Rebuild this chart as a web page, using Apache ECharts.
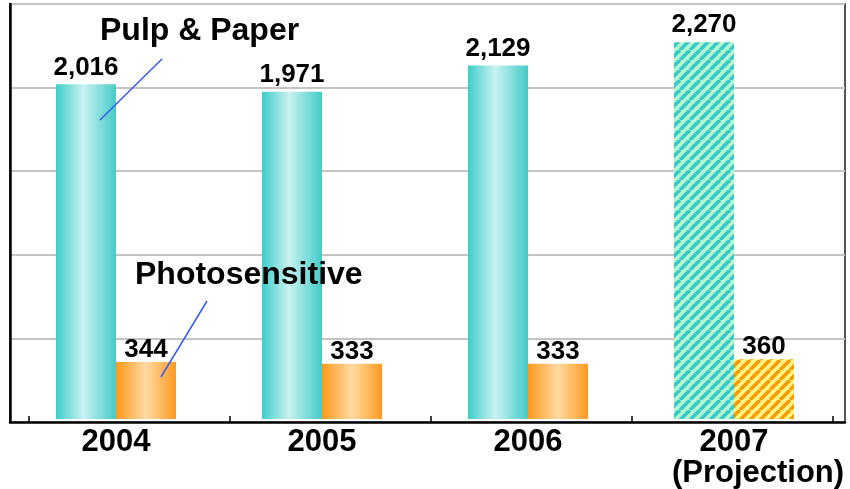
<!DOCTYPE html>
<html>
<head>
<meta charset="utf-8">
<script src="https://cdn.jsdelivr.net/npm/echarts@6/dist/echarts.min.js"></script>
<style>
  html, body { margin: 0; padding: 0; background: #fff; }
  #chart { width: 850px; height: 489px; }
</style>
</head>
<body>
<div id="chart"></div>
<script>
// data
var years = ["2004", "2005", "2006", "2007"];
var pulpPaper = [2016, 1971, 2129, 2270];
var photosensitive = [344, 333, 333, 360];
var yTicks = [0, 500, 1000, 1500, 2000, 2500];

var FONT = "Liberation Sans, Arial, sans-serif";

// hatch pattern for the projected year
function hatch(bg, fg) {
  var s = 10;
  var c = document.createElement("canvas");
  c.width = s; c.height = s;
  var ctx = c.getContext("2d");
  ctx.fillStyle = bg;
  ctx.fillRect(0, 0, s, s);
  ctx.strokeStyle = fg;
  ctx.lineWidth = 3.6;
  [-s, 0, s].forEach(function (k) {
    ctx.beginPath();
    ctx.moveTo(k, s);
    ctx.lineTo(k + s, 0);
    ctx.stroke();
  });
  return { image: c, repeat: "repeat" };
}

var tealGrad = new echarts.graphic.LinearGradient(0, 0, 1, 0, [
  { offset: 0, color: "#3ecdca" },
  { offset: 0.45, color: "#c8f2f0" },
  { offset: 1, color: "#44cbc8" }
]);
var orangeGrad = new echarts.graphic.LinearGradient(0, 0, 1, 0, [
  { offset: 0, color: "#ff981c" },
  { offset: 0.5, color: "#ffdaa2" },
  { offset: 1, color: "#ff9a20" }
]);

function withProjection(values, grad, pattern) {
  return values.map(function (v, i) {
    return {
      value: v,
      itemStyle: { color: i === values.length - 1 ? pattern : grad }
    };
  });
}

var labelStyle = {
  show: true,
  position: "top",
  fontFamily: FONT,
  fontWeight: "bold",
  fontSize: 26,
  color: "#000",
  formatter: function (p) { return p.value.toLocaleString("en-US"); }
};

var myChart = echarts.init(document.getElementById("chart"));
myChart.setOption({
  animation: false,
  grid: [
    // frame + gridlines
    { left: 10, right: 5, top: 4, bottom: 67, show: true, borderColor: "#555", borderWidth: 2 },
    // bars
    { left: 13, right: 13, top: 4, bottom: 67 },
    // small category ticks
    { left: 29, right: 17, top: 4, bottom: 67 }
  ],
  xAxis: [
    { gridIndex: 0, type: "category", data: years,
      axisLine: { lineStyle: { color: "#000", width: 2.5 } },
      axisTick: { show: false }, axisLabel: { show: false } },
    { gridIndex: 1, type: "category", data: years,
      axisLine: { show: false }, axisTick: { show: false },
      axisLabel: {
        interval: 0,
        margin: 8,
        fontFamily: FONT, fontWeight: "bold", fontSize: 31, color: "#000",
        formatter: function (v, i) {
          return i === years.length - 1 ? v + "\n{p|(Projection)}" : v;
        },
        rich: {
          p: { fontFamily: FONT, fontWeight: "bold", fontSize: 31, color: "#000",
               padding: [0, 0, 0, 48] }
        }
      } },
    { gridIndex: 2, type: "category", data: years,
      axisLine: { show: false },
      axisTick: { show: true, inside: true, length: 6, lineStyle: { color: "#000", width: 1.5 } },
      axisLabel: { show: false } }
  ],
  yAxis: [
    { gridIndex: 0, type: "value", min: yTicks[0], max: yTicks[yTicks.length - 1], interval: 500,
      axisLine: { show: true, lineStyle: { color: "#000", width: 2.5 } },
      axisTick: { show: false }, axisLabel: { show: false },
      splitLine: { lineStyle: { color: "#c4c4c4", width: 2 } } },
    { gridIndex: 1, type: "value", min: yTicks[0], max: yTicks[yTicks.length - 1], interval: 500,
      axisLine: { show: false }, axisTick: { show: false }, axisLabel: { show: false },
      splitLine: { show: false } },
    { gridIndex: 2, type: "value", show: false }
  ],
  series: [
    {
      name: "Pulp & Paper",
      type: "bar",
      xAxisIndex: 1, yAxisIndex: 1,
      barWidth: 60,
      barGap: "0%",
      data: withProjection(pulpPaper, tealGrad, hatch("#b4f6d0", "#35c9c8")),
      label: Object.assign({}, labelStyle, { distance: 4 })
    },
    {
      name: "Photosensitive",
      type: "bar",
      xAxisIndex: 1, yAxisIndex: 1,
      barWidth: 60,
      barGap: "0%",
      data: withProjection(photosensitive, orangeGrad, hatch("#fdf78a", "#ff9a00")),
      label: Object.assign({}, labelStyle, { distance: -1 })
    }
  ],
  graphic: [
    { type: "text", z: 10, x: 100, y: 31, style: { text: "Pulp & Paper", verticalAlign: "middle",
        font: "bold 32px " + FONT, fill: "#000" } },
    { type: "line", z: 10, shape: { x1: 162, y1: 59, x2: 100, y2: 120 },
      style: { stroke: "#3b5bf0", lineWidth: 1.5 } },
    { type: "text", z: 10, x: 135, y: 275, style: { text: "Photosensitive", verticalAlign: "middle",
        font: "bold 32px " + FONT, fill: "#000" } },
    { type: "line", z: 10, shape: { x1: 207, y1: 301, x2: 161, y2: 377 },
      style: { stroke: "#3b5bf0", lineWidth: 1.5 } }
  ]
});
</script>
</body>
</html>
